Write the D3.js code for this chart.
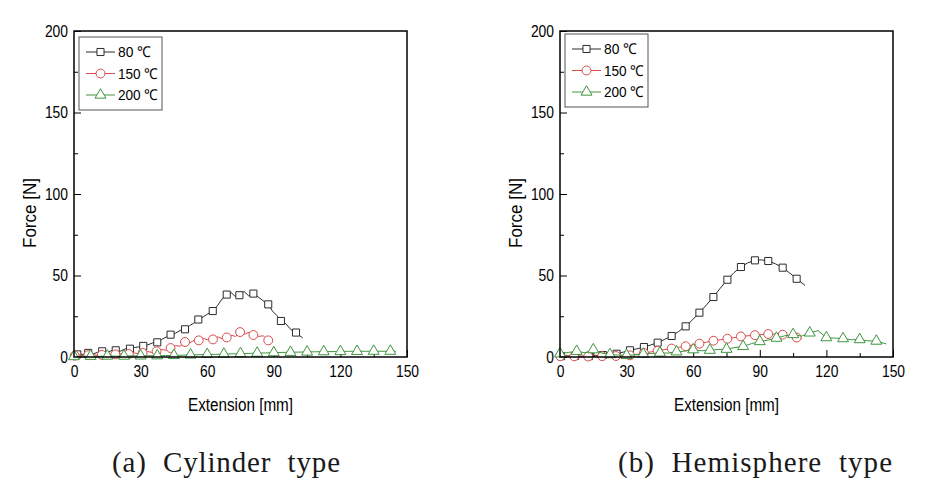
<!DOCTYPE html>
<html>
<head>
<meta charset="utf-8">
<script src="https://cdn.jsdelivr.net/npm/d3@7/dist/d3.min.js"></script>
<style>
  body { margin: 0; background: #fff; }
  svg { display: block; }
  text { font-family: "Liberation Sans Narrow", "Arial Narrow", "Liberation Sans", sans-serif; fill: #000; }
  text.cap { font-family: "Liberation Serif", "DejaVu Serif", serif; fill: #1a1a1a; white-space: pre; }
</style>
</head>
<body>
<svg id="chart" width="929" height="486"></svg>
<script>
// ---- data (extension mm / force N) ----
var seriesNames = ["80 ℃", "150 ℃", "200 ℃"];
var xTicks = [0, 30, 60, 90, 120, 150];
var yTicks = [0, 50, 100, 150, 200];

// (a) cylinder type
var cylExt80 = [0.0, 1.5, 3.1, 4.8, 6.4, 8.5, 10.6, 12.7, 14.7, 16.8, 18.8, 21.0, 23.1, 25.2, 27.2, 29.2, 31.2, 33.3, 35.4, 37.5, 39.5, 41.5, 43.5, 45.7, 47.8, 50.0, 52.0, 54.0, 56.0, 58.2, 60.3, 62.5, 64.6, 66.7, 68.8, 70.7, 72.6, 74.5, 76.6, 78.7, 80.8, 83.0, 85.2, 87.5, 89.4, 91.3, 93.2, 95.5, 97.7, 100.0, 101.5, 103.0];
var cylForce80 = [1.2, 1.6, 1.3, 2.0, 2.5, 1.8, 2.9, 3.5, 2.6, 3.9, 4.1, 3.6, 5.0, 5.1, 5.8, 6.2, 6.8, 7.5, 8.6, 9.0, 10.8, 12.2, 13.7, 14.6, 16.3, 17.0, 19.2, 20.8, 23.0, 24.6, 26.5, 28.2, 31.5, 35.6, 38.3, 39.6, 37.2, 37.9, 40.2, 37.5, 38.9, 36.8, 34.5, 32.3, 28.2, 25.6, 22.1, 20.3, 16.8, 15.0, 13.2, 11.8];
var cylExt150 = [0.0, 0.3, 2.3, 4.4, 6.4, 8.4, 10.5, 12.5, 14.5, 16.6, 18.6, 20.6, 22.7, 24.7, 26.8, 28.8, 30.9, 33.0, 35.1, 37.2, 39.3, 41.4, 43.5, 45.7, 47.8, 50.0, 52.1, 54.1, 56.2, 58.3, 60.5, 62.6, 64.7, 66.7, 68.8, 70.8, 72.8, 74.8, 76.8, 78.8, 80.8, 83.0, 85.2, 87.5];
var cylForce150 = [0.6, 0.8, 1.2, 0.9, 1.1, 1.5, 1.0, 1.3, 1.9, 1.2, 1.6, 2.1, 1.5, 1.8, 2.6, 2.0, 2.5, 3.4, 2.8, 3.5, 4.6, 4.1, 5.5, 7.0, 6.6, 9.2, 8.6, 10.3, 10.2, 11.4, 10.4, 10.8, 12.4, 11.3, 12.0, 13.4, 12.6, 15.3, 14.0, 15.1, 13.5, 12.6, 13.0, 10.2];
var cylExt200 = [0, 3.75, 7.5, 11.25, 15, 18.75, 22.5, 26.25, 30, 33.75, 37.5, 41.25, 45, 48.75, 52.5, 56.25, 60, 63.75, 67.5, 71.25, 75, 78.75, 82.5, 86.25, 90, 93.75, 97.5, 101.25, 105, 108.75, 112.5, 116.25, 120, 123.75, 127.5, 131.25, 135, 138.75, 142.5, 145];
var cylForce200 = [0.3, 0.4, 0.5, 0.4, 0.6, 0.5, 0.6, 0.7, 0.7, 0.8, 0.8, 0.9, 1.0, 1.1, 1.3, 1.4, 1.6, 1.6, 1.8, 1.9, 2.1, 2.2, 2.4, 2.5, 2.7, 2.8, 2.9, 3.0, 3.1, 3.2, 3.3, 3.3, 3.4, 3.5, 3.5, 3.5, 3.6, 3.5, 3.6, 3.5];

// (b) hemisphere type
var hemExt80 = [0.5, 3.6, 6.8, 9.9, 13.0, 16.1, 19.3, 22.4, 25.5, 28.5, 31.5, 34.6, 37.8, 40.9, 44.0, 47.1, 50.3, 53.4, 56.6, 59.7, 62.8, 66.0, 69.1, 72.2, 75.4, 78.4, 81.5, 84.6, 87.8, 90.8, 93.8, 97.0, 100.3, 103.4, 106.6, 110.4];
var hemForce80 = [0.5, 0.7, 0.6, 0.4, 0.5, 0.9, 1.2, 1.6, 2.0, 3.0, 4.1, 5.0, 6.1, 7.4, 8.8, 10.8, 12.9, 15.6, 18.8, 22.8, 27.2, 32.0, 36.8, 42.2, 47.4, 51.8, 55.2, 57.8, 59.3, 59.6, 58.9, 57.2, 54.8, 51.6, 48.0, 43.9];
var hemExt150 = [0.1, 3.2, 6.4, 9.5, 12.7, 15.8, 19.0, 22.1, 25.2, 28.3, 31.5, 34.6, 37.8, 40.9, 44.0, 47.1, 50.3, 53.4, 56.6, 59.7, 62.8, 66.0, 69.1, 72.2, 75.4, 78.4, 81.5, 84.6, 87.8, 90.8, 93.8, 97.0, 100.3, 103.4, 106.6, 109.0];
var hemForce150 = [0.5, 0.6, 0.4, 0.5, 0.3, 0.4, 0.5, 0.6, 0.6, 0.8, 1.0, 1.6, 2.5, 3.1, 3.8, 4.5, 5.2, 5.9, 6.6, 7.4, 8.2, 9.1, 10.0, 10.6, 11.2, 11.9, 12.6, 13.0, 13.4, 13.8, 14.1, 14.0, 13.7, 12.9, 11.9, 11.5];
var hemExt200 = [0, 3.75, 7.5, 11.25, 15, 18.75, 22.5, 26.25, 30, 33.75, 37.5, 41.25, 45, 48.75, 52.5, 56.25, 60, 63.75, 67.5, 71.25, 75, 78.75, 82.5, 86.25, 90, 93.75, 97.5, 101.25, 105, 108.75, 112.5, 116.25, 120, 123.75, 127.5, 131.25, 135, 138.75, 142.5, 147];
var hemForce200 = [2.0, 2.8, 3.5, 2.6, 4.5, 2.4, 1.5, 1.2, 1.0, 1.3, 1.8, 2.2, 2.5, 2.4, 3.2, 3.6, 4.5, 3.8, 4.2, 4.6, 4.8, 5.8, 6.5, 8.2, 9.5, 10.4, 11.6, 13.0, 13.8, 12.8, 14.8, 16.2, 11.9, 11.6, 11.3, 10.6, 10.7, 9.9, 9.8, 8.0];

var colors = ["#2b2b2b", "#d84b4b", "#3f963f"];
var symbols = [d3.symbolSquare, d3.symbolCircle, d3.symbolTriangle];
var symbolSizes = [50, 62, 52];

var panels = [
  { left: 74, legendTop: 37, caption: "(a)  Cylinder  type", capX: 112, capW: 228,
    markEvery: [[3, 1], [3, 1], [2, 0]],   // [step, offset] for markers along each series
    series: [[cylExt80, cylForce80], [cylExt150, cylForce150], [cylExt200, cylForce200]] },
  { left: 560, legendTop: 34, caption: "(b)  Hemisphere  type", capX: 618, capW: 274,
    markEvery: [[2, 0], [2, 0], [2, 0]],
    series: [[hemExt80, hemForce80], [hemExt150, hemForce150], [hemExt200, hemForce200]] }
];

var plotTop = 31, plotW = 333, plotH = 326;
var svg = d3.select("#chart");

// squeeze Liberation Sans to look like the narrow face of the original
function narrow(sel, perChar) {
  sel.each(function() {
    var t = d3.select(this);
    t.attr("textLength", t.text().length * perChar).attr("lengthAdjust", "spacingAndGlyphs");
  });
}

panels.forEach(function(p) {
  var x = d3.scaleLinear().domain([0, 150]).range([p.left, p.left + plotW]);
  var y = d3.scaleLinear().domain([0, 200]).range([plotTop + plotH, plotTop]);

  // minor ticks
  svg.append("g")
    .attr("transform", "translate(0," + (plotTop + plotH) + ")")
    .call(d3.axisBottom(x).tickValues(d3.range(15, 150, 30)).tickSize(-4).tickFormat(""))
    .call(function(g) { g.select(".domain").remove(); });
  svg.append("g")
    .attr("transform", "translate(" + p.left + ",0)")
    .call(d3.axisLeft(y).tickValues(d3.range(25, 200, 50)).tickSize(-4).tickFormat(""))
    .call(function(g) { g.select(".domain").remove(); });

  // major ticks + labels
  var xa = svg.append("g")
    .attr("transform", "translate(0," + (plotTop + plotH) + ")")
    .call(d3.axisBottom(x).tickValues(xTicks).tickSizeInner(-7).tickSizeOuter(0).tickPadding(9));
  xa.select(".domain").remove();
  xa.attr("font-family", null).attr("font-size", null);
  xa.selectAll("text").style("font-size", "16px").call(narrow, 7.7);

  var ya = svg.append("g")
    .attr("transform", "translate(" + p.left + ",0)")
    .call(d3.axisLeft(y).tickValues(yTicks).tickSizeInner(-7).tickSizeOuter(0).tickPadding(6));
  ya.select(".domain").remove();
  ya.attr("font-family", null).attr("font-size", null);
  ya.selectAll("text").style("font-size", "16px").call(narrow, 7.7);
  svg.selectAll(".tick line").attr("stroke", "#000");

  // series
  p.series.forEach(function(s, k) {
    var pts = s[0].map(function(e, i) { return [e, s[1][i]]; });
    svg.append("path")
      .datum(pts)
      .attr("fill", "none")
      .attr("stroke", colors[k])
      .attr("stroke-width", 1)
      .attr("d", d3.line().x(function(d) { return x(d[0]); }).y(function(d) { return y(d[1]); }));

    var step = p.markEvery[k][0], off = p.markEvery[k][1];
    svg.append("g").selectAll("path")
      .data(pts.filter(function(d, i) { return i % step === off; }))
      .enter().append("path")
      .attr("transform", function(d) { return "translate(" + x(d[0]) + "," + y(d[1]) + ")"; })
      .attr("d", d3.symbol().type(symbols[k]).size(symbolSizes[k]))
      .attr("fill", "#fff")
      .attr("stroke", colors[k])
      .attr("stroke-width", 1);
  });

  // frame
  svg.append("rect")
    .attr("x", p.left).attr("y", plotTop)
    .attr("width", plotW).attr("height", plotH)
    .attr("fill", "none").attr("stroke", "#000").attr("stroke-width", 1.5);

  // legend
  var lg = svg.append("g").attr("transform", "translate(" + (p.left + 5) + "," + p.legendTop + ")");
  lg.append("rect").attr("width", 83).attr("height", 73)
    .attr("fill", "#fff").attr("stroke", "#555").attr("stroke-width", 1);
  seriesNames.forEach(function(name, k) {
    var ly = 15 + k * 21.5;
    lg.append("line").attr("x1", 7).attr("x2", 36).attr("y1", ly).attr("y2", ly)
      .attr("stroke", colors[k]).attr("stroke-width", 1);
    lg.append("path")
      .attr("transform", "translate(21.5," + ly + ")")
      .attr("d", d3.symbol().type(symbols[k]).size(symbolSizes[k]))
      .attr("fill", "#fff").attr("stroke", colors[k]);
    lg.append("text").attr("x", 39).attr("y", ly).attr("dy", "0.36em")
      .style("font-size", "15px").text(name)
      .attr("textLength", name.length === 4 ? 33 : 40).attr("lengthAdjust", "spacingAndGlyphs");
  });

  // axis titles
  svg.append("text")
    .attr("x", p.left + plotW / 2).attr("y", 411)
    .attr("text-anchor", "middle").style("font-size", "18px")
    .attr("textLength", 105).attr("lengthAdjust", "spacingAndGlyphs")
    .text("Extension [mm]");
  svg.append("text")
    .attr("transform", "translate(" + (p.left - 38) + ",213) rotate(-90)")
    .attr("text-anchor", "middle").style("font-size", "18px")
    .attr("textLength", 70).attr("lengthAdjust", "spacingAndGlyphs")
    .text("Force [N]");

  // caption
  svg.append("text").attr("class", "cap")
    .attr("x", p.capX).attr("y", 472)
    .attr("textLength", p.capW).attr("lengthAdjust", "spacing")
    .style("font-size", "29px")
    .text(p.caption);
});
</script>
</body>
</html>
